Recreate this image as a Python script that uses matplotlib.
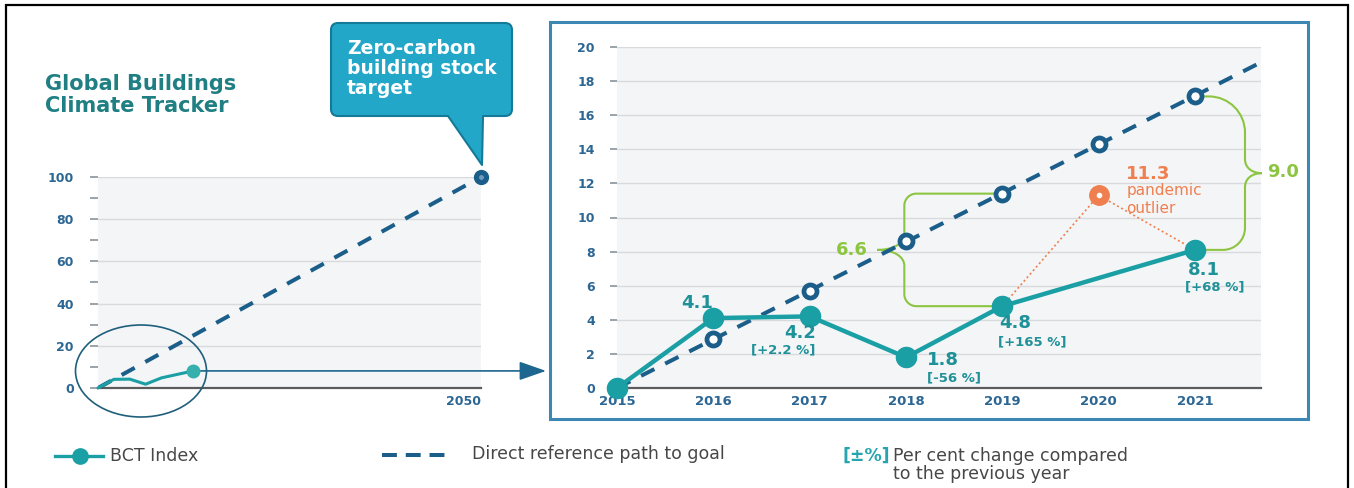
import matplotlib
matplotlib.use("Agg")
import matplotlib.pyplot as plt
from matplotlib.patches import Ellipse, Rectangle, PathPatch
from matplotlib.path import Path
from matplotlib.lines import Line2D
from matplotlib.transforms import IdentityTransform
import numpy as np

# ---------------- data ----------------
years = [2015, 2016, 2017, 2018, 2019, 2020, 2021]
bct_years = [2015, 2016, 2017, 2018, 2019, 2021]
bct_index = [0.0, 4.1, 4.2, 1.8, 4.8, 8.1]
bct_change = ["", "", "[+2.2 %]", "[-56 %]", "[+165 %]", "[+68 %]"]
ref_years = [2016, 2017, 2018, 2019, 2020, 2021]
ref_path = [2.9, 5.7, 8.6, 11.4, 14.3, 17.1]
path_start = [2015, 0.0]
target = [2050, 100.0]
outlier_year = 2020
outlier_value = 11.3
gap_years = [2019, 2021]
gap_values = [6.6, 9.0]
overview_yticks = [0, 20, 40, 60, 80, 100]
overview_minor = [10, 30, 50, 70, 90]
detail_yticks = [0, 2, 4, 6, 8, 10, 12, 14, 16, 18, 20]

# ---------------- style ----------------
TEAL = "#1a9fa4"
TEAL_TXT = "#1f9198"
NAVY = "#1b5e8a"
TICK_TXT = "#2c6693"
GREEN = "#8cc540"
ORANGE = "#ef7f4f"
TITLE = "#1f7f82"
PANEL_BG = "#f4f5f7"
GRID = "#d9dadd"
LEGEND_TXT = "#474747"

W, H = 1354, 488
fig = plt.figure(figsize=(W / 100, H / 100), dpi=100)
fig.patch.set_facecolor("white")


def fx(x):
    return x / W


def fy(y):
    return 1 - y / H


def style_axes(ax, yticks, tick_len, pad):
    ax.set_facecolor(PANEL_BG)
    for s in ("top", "right", "left"):
        ax.spines[s].set_visible(False)
    ax.spines["bottom"].set_color("#5c5c5c")
    ax.spines["bottom"].set_linewidth(1.6)
    ax.set_yticks(yticks, [str(t) for t in yticks], fontweight="bold")
    ax.yaxis.grid(True, color=GRID, lw=1.0)
    ax.set_axisbelow(True)
    ax.tick_params(axis="y", which="both", length=tick_len, width=1.2,
                   color="#8a939c", pad=pad, labelsize=9, labelcolor=TICK_TXT)


# ---------------- overview panel ----------------
ax1 = fig.add_axes([fx(98), fy(388), (481 - 98) / W, (388 - 177) / H])
ax1.set_xlim(2015, 2050)
ax1.set_ylim(0, 100)
style_axes(ax1, overview_yticks, 5.8, 11.5)
ax1.set_yticks(overview_minor, minor=True)
ax1.set_xticks([])
ax1.annotate("2050", (target[0], 0), xytext=(0, -10), textcoords="offset points",
             ha="right", va="center", fontsize=9, fontweight="bold", color=TICK_TXT,
             annotation_clip=False)

ax1.plot([path_start[0], target[0]], [path_start[1], target[1]], color=NAVY, lw=2.9,
         linestyle=(0, (3.7, 3.0)), zorder=3)
ax1.plot(target[0], target[1], "o", ms=10, color=NAVY, clip_on=False, zorder=4)
ax1.plot(target[0], target[1], "o", ms=2.5, color="#6f9cc0", clip_on=False, zorder=5)

# magnified view of the recent BCT trajectory inside the long-range scale
inset_stretch = 1.45
inset_x = [2015 + (y - 2015) * inset_stretch for y in bct_years]
ax1.plot(inset_x, bct_index, color=TEAL, lw=2.2, solid_joinstyle="round",
         solid_capstyle="round", clip_on=False, zorder=4)
ax1.plot(inset_x[-1], bct_index[-1], "o", ms=9, color="#35b0ac", clip_on=False, zorder=5)

fig.add_artist(Ellipse((fx(141), fy(371)), 131 / W, 92 / H, transform=fig.transFigure,
                       fill=False, ec="#1f5f7c", lw=1.2))

ax1.annotate("", xy=(fx(546), bct_index[-1]), xycoords=("figure fraction", "data"),
             xytext=(inset_x[-1], bct_index[-1]), textcoords="data",
             arrowprops=dict(arrowstyle="-|>,head_length=0.83,head_width=0.29",
                             mutation_scale=20, color="#1d6690", lw=1.2,
                             shrinkA=0, shrinkB=0),
             annotation_clip=False)

# title
fig.text(fx(45), fy(84), "Global Buildings", fontsize=15, fontweight="bold",
         color=TITLE, va="center", ha="left")
fig.text(fx(45), fy(106), "Climate Tracker", fontsize=15, fontweight="bold",
         color=TITLE, va="center", ha="left")

# callout bubble pointing at the target
L, R, T, B, r = 331, 512, 23, 116, 7
pts = [(L + r, T), (R - r, T), (R, T), (R, T + r), (R, B - r), (R, B), (R - r, B),
       (483, B), (482, 165), (448, B), (L + r, B), (L, B), (L, B - r), (L, T + r),
       (L, T), (L + r, T)]
codes = [Path.MOVETO, Path.LINETO, Path.CURVE3, Path.CURVE3, Path.LINETO, Path.CURVE3,
         Path.CURVE3, Path.LINETO, Path.LINETO, Path.LINETO, Path.LINETO, Path.CURVE3,
         Path.CURVE3, Path.LINETO, Path.CURVE3, Path.CURVE3]
bubble = Path([(x, H - y) for x, y in pts], codes)
fig.add_artist(PathPatch(bubble, transform=IdentityTransform(), fc="#22a7c9",
                         ec="#157a98", lw=1.5, joinstyle="round"))
for i, line in enumerate(["Zero-carbon", "building stock", "target"]):
    fig.text(fx(347), fy(48 + 20 * i), line, fontsize=13.5, fontweight="bold",
             color="white", va="center", ha="left")

# ---------------- detail panel ----------------
fig.add_artist(Rectangle((fx(550), fy(419)), (1308 - 550) / W, (419 - 22) / H,
                         transform=fig.transFigure, fill=False, ec="#3d87b5", lw=2.2))

ax2 = fig.add_axes([fx(617), fy(388), (1261 - 617) / W, (388 - 47) / H])
ax2.set_xlim(2015, 2015 + 644 / 96.33)
ax2.set_ylim(0, 20)
style_axes(ax2, detail_yticks, 5, 11)
ax2.set_xticks(years, [str(y) for y in years], fontweight="bold")
ax2.tick_params(axis="x", length=0, pad=5, labelsize=9.5, labelcolor=TICK_TXT)

ax2.plot([path_start[0], target[0]], [path_start[1], target[1]], color=NAVY, lw=2.9,
         linestyle=(0, (3.7, 3.0)), zorder=3)
ax2.plot(ref_years, ref_path, "o", ls="none", ms=9.4, mew=3.4, mfc="white", mec=NAVY,
         zorder=6, clip_on=False)

bx = dict(zip(bct_years, bct_index))
ax2.plot([2019, outlier_year, 2021], [bx[2019], outlier_value, bx[2021]],
         color=ORANGE, lw=1.2, ls=(0, (1.2, 1.6)), zorder=2.8)
ax2.plot(outlier_year, outlier_value, "o", ms=14, color=ORANGE, zorder=6)
ax2.plot(outlier_year, outlier_value, "o", ms=3, color="white", zorder=7)

ax2.plot(bct_years, bct_index, color=TEAL, lw=3.2, solid_joinstyle="round", zorder=4,
         clip_on=False)
ax2.plot(bct_years, bct_index, "o", ls="none", ms=14.5, color=TEAL, zorder=7,
         clip_on=False)

# value and change labels (offsets in points)
value_pos = {2016: (-12, 11, "center"), 2017: (-7, -12, "center"),
             2018: (15, -2, "left"), 2019: (-2, -12, "left"), 2021: (-5, -14.5, "left")}
change_pos = {2017: (-19, -24.5, "center"), 2018: (15, -15, "left"),
              2019: (-3, -26, "left"), 2021: (-7, -26.6, "left")}
for yr, val, chg in zip(bct_years, bct_index, bct_change):
    if yr in value_pos:
        dx, dy, ha = value_pos[yr]
        ax2.annotate(f"{val:.1f}", (yr, val), xytext=(dx, dy), textcoords="offset points",
                     ha=ha, va="center", fontsize=13, fontweight="bold", color=TEAL_TXT,
                     zorder=8)
    if chg:
        dx, dy, ha = change_pos[yr]
        ax2.annotate(chg, (yr, val), xytext=(dx, dy), textcoords="offset points",
                     ha=ha, va="center", fontsize=9.5, fontweight="bold", color=TEAL_TXT,
                     zorder=8)

ax2.annotate(f"{outlier_value:.1f}", (outlier_year, outlier_value), xytext=(20, 15.5),
             textcoords="offset points", ha="left", va="center", fontsize=13,
             fontweight="bold", color=ORANGE)
ax2.annotate("pandemic", (outlier_year, outlier_value), xytext=(20, 3.5),
             textcoords="offset points", ha="left", va="center", fontsize=11,
             color=ORANGE)
ax2.annotate("outlier", (outlier_year, outlier_value), xytext=(20, -9.5),
             textcoords="offset points", ha="left", va="center", fontsize=11,
             color=ORANGE)


def gap_brace(ax, x, y_top, y_bot, vert_off, tip_w, r_top, r_bot, tip_h):
    """Curly brace between two values at the same x; sizes in pixels."""
    tr = ax.transData
    xa, yt = tr.transform((x, y_top))
    _, yb = tr.transform((x, y_bot))
    d = np.sign(vert_off)
    xv = xa + vert_off
    tip = xv + d * tip_w
    ym = (yt + yb) / 2
    k = 0.448
    verts = [(xa, yt), (xv - d * r_top, yt),
             (xv - d * k * r_top, yt), (xv, yt - k * r_top), (xv, yt - r_top),
             (xv, ym + tip_h),
             (xv, ym + 0.4 * tip_h), (tip - d * 0.6 * tip_w, ym), (tip, ym),
             (tip - d * 0.6 * tip_w, ym), (xv, ym - 0.4 * tip_h), (xv, ym - tip_h),
             (xv, yb + r_bot),
             (xv, yb + k * r_bot), (xv - d * k * r_bot, yb), (xv - d * r_bot, yb),
             (xa, yb)]
    codes = [Path.MOVETO, Path.LINETO,
             Path.CURVE4, Path.CURVE4, Path.CURVE4,
             Path.LINETO,
             Path.CURVE4, Path.CURVE4, Path.CURVE4,
             Path.CURVE4, Path.CURVE4, Path.CURVE4,
             Path.LINETO,
             Path.CURVE4, Path.CURVE4, Path.CURVE4,
             Path.LINETO]
    inv = tr.inverted()
    path = Path(inv.transform(verts), codes)
    ax.add_patch(PathPatch(path, fill=False, ec=GREEN, lw=1.5, clip_on=False, zorder=2.5))
    return tuple(inv.transform((tip, ym)))


rx = dict(zip(ref_years, ref_path))
brace_geom = {2019: (-98, 27, 12, 12, 16), 2021: (50, 17, 36, 22, 14)}
label_off = {2019: (-7, 0, "right"), 2021: (4, 1, "left")}
for yr, gap in zip(gap_years, gap_values):
    vo, tw, rt, rb, th = brace_geom[yr]
    tip_pt = gap_brace(ax2, yr, rx[yr], bx[yr], vo, tw, rt, rb, th)
    dx, dy, ha = label_off[yr]
    ax2.annotate(f"{gap:.1f}", tip_pt, xytext=(dx, dy), textcoords="offset points",
                 ha=ha, va="center", fontsize=13, fontweight="bold", color=GREEN,
                 annotation_clip=False)

# ---------------- legend ----------------
fig.add_artist(Line2D([fx(55), fx(103)], [fy(456)] * 2, transform=fig.transFigure,
                      color=TEAL, lw=2.4))
fig.add_artist(Line2D([fx(80)], [fy(456)], transform=fig.transFigure, marker="o",
                      ms=11, color=TEAL, ls="none"))
fig.text(fx(110), fy(456), "BCT Index", fontsize=12.5, color=LEGEND_TXT, va="center")

fig.add_artist(Line2D([fx(382), fx(445)], [fy(455)] * 2, transform=fig.transFigure,
                      color=NAVY, lw=2.9, linestyle=(0, (3.7, 2.2))))
fig.text(fx(472), fy(454), "Direct reference path to goal", fontsize=12.5,
         color=LEGEND_TXT, va="center")

fig.text(fx(842), fy(456), "[±%]", fontsize=12.5, fontweight="bold", color="#27a5ae",
         va="center")
fig.text(fx(893), fy(456), "Per cent change compared", fontsize=12.5, color=LEGEND_TXT,
         va="center")
fig.text(fx(893), fy(474), "to the previous year", fontsize=12.5, color=LEGEND_TXT,
         va="center")

# outer frame
fig.add_artist(Rectangle((fx(6), -0.05), fx(1348) - fx(6), fy(5) + 0.05,
                         transform=fig.transFigure, fill=False, ec="black", lw=1.6))

fig.savefig("out.png", dpi=100)
